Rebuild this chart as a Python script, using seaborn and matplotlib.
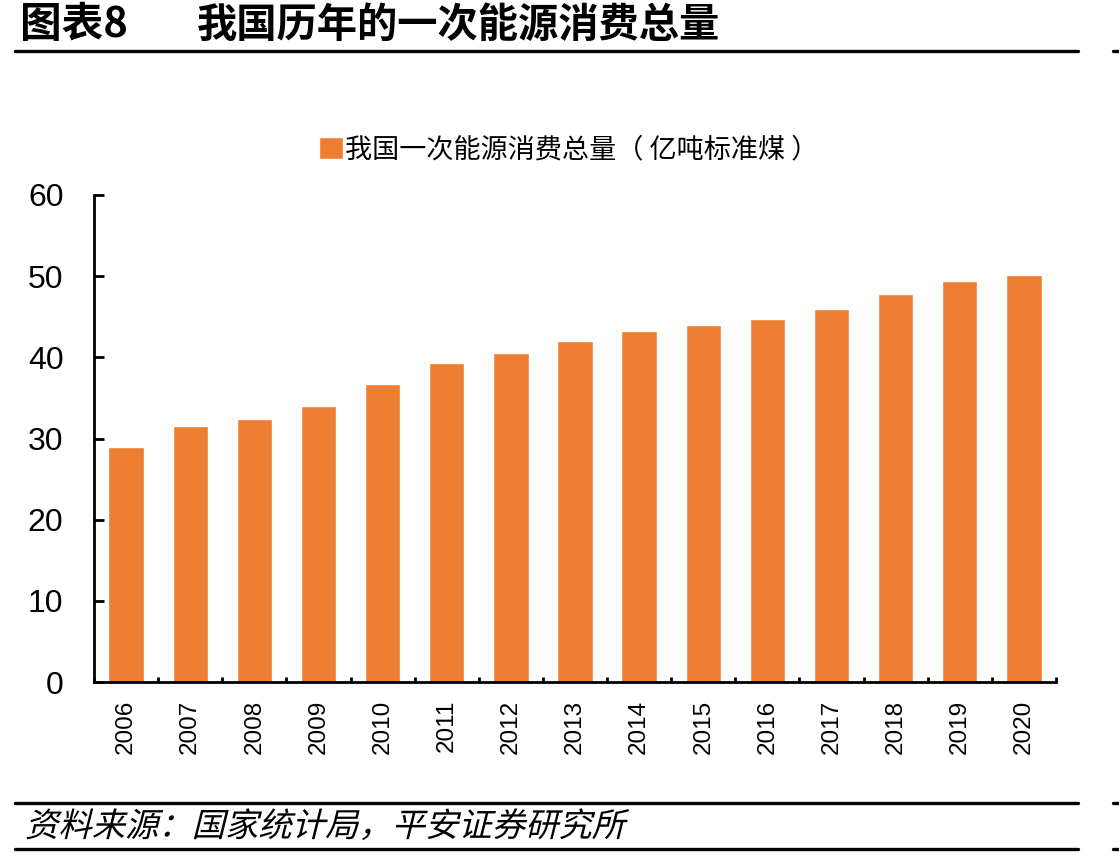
import seaborn as sns
import matplotlib.pyplot as plt
import pandas as pd
import matplotlib.patheffects as pe
from matplotlib.transforms import Affine2D
from matplotlib.lines import Line2D

# data
years = [str(y) for y in range(2006, 2021)]
energy = [29.0, 31.6, 32.4, 34.0, 36.7, 39.3, 40.5, 42.0,
          43.3, 44.0, 44.7, 46.0, 47.8, 49.4, 50.2]
y_ticks = [0, 10, 20, 30, 40, 50, 60]

title_no = "图表8"
title = "我国历年的一次能源消费总量"
legend_label = "我国一次能源消费总量（ 亿吨标准煤 ）"
source = "资料来源：国家统计局，平安证券研究所"

df = pd.DataFrame({"year": years, "value": energy})

sns.set_theme(style="white")
plt.rcParams['font.family'] = ['Liberation Sans', 'Noto Sans CJK SC', 'DejaVu Sans']
plt.rcParams['text.color'] = 'black'
cjk = ['Noto Sans CJK SC', 'DejaVu Sans']


class Slant(pe.AbstractPathEffect):
    # fake italic: shear the glyph outlines before placing them
    def __init__(self, deg=14):
        super().__init__()
        self.deg = deg

    def draw_path(self, renderer, gc, tpath, affine, rgbFace=None):
        renderer.draw_path(gc, tpath, Affine2D().skew_deg(self.deg, 0) + affine, rgbFace)


fig = plt.figure(figsize=(11.19, 8.59), dpi=100)
ax = fig.add_axes([94 / 1119, 1 - 682 / 859, (1056 - 94) / 1119, (682 - 195) / 859])

sns.barplot(data=df, x="year", y="value", color="#ED7D31", width=0.55,
            saturation=1, label=legend_label, ax=ax)

ax.set_xlim(-0.5, len(years) - 0.5)
ax.set_ylim(0, 60)
ax.set_yticks(y_ticks)
ax.set_xlabel("")
ax.set_ylabel("")

for s in ["top", "right"]:
    ax.spines[s].set_visible(False)
for s in ["left", "bottom"]:
    ax.spines[s].set_linewidth(2)
    ax.spines[s].set_color("black")

ax.tick_params(axis='y', direction='in', length=7, width=2, color='black',
               labelsize=23, pad=22, left=True, labelcolor='black')
ax.tick_params(axis='x', which='major', length=0, labelsize=17.5, pad=13,
               labelrotation=90, labelcolor='black')
ax.set_xticks([i - 0.5 for i in range(len(years) + 1)], minor=True)
ax.tick_params(axis='x', which='minor', direction='in', length=3.5, width=2,
               color='black', bottom=True)

leg = ax.legend(loc='center', bbox_to_anchor=(0.508, 1 - 150 / 859),
                bbox_transform=fig.transFigure, frameon=False,
                handlelength=0.9, handleheight=0.9, handletextpad=0.05,
                prop={'family': cjk, 'size': 19.5})
for t in leg.get_texts():
    t.set_color('black')

# header
fig.text(20 / 1119, 1 - 25 / 859, title_no, family=cjk, weight='bold',
         fontsize=30, va='center', ha='left')
fig.text(197 / 1119, 1 - 25 / 859, title, family=cjk, weight='bold',
         fontsize=29, va='center', ha='left')

# source
fig.text(25 / 1119, 1 - 827 / 859, source, family=cjk, fontsize=24,
         va='center', ha='left', path_effects=[Slant(14)])

# rules
for yy in [51, 802.5, 849]:
    y = 1 - yy / 859
    fig.add_artist(Line2D([15 / 1119, 1078 / 1119], [y, y], color='black', lw=2.4))
    fig.add_artist(Line2D([1113 / 1119, 1], [y, y], color='black', lw=2.4))

fig.savefig("out.png", dpi=100)
